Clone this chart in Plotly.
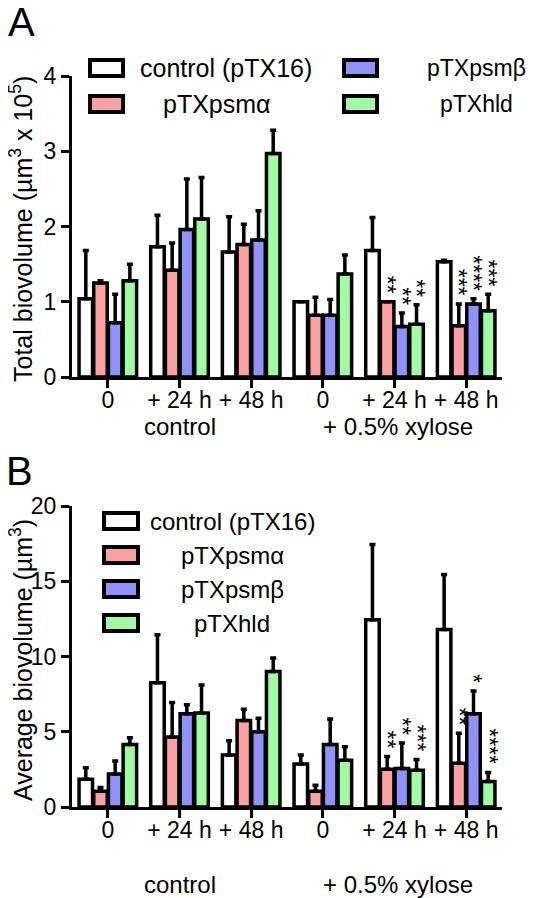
import plotly.graph_objects as go

W, H = 550, 898
OFF = 8  # page body margin of the html page
FONT = "Liberation Sans, Arial, sans-serif"

# ---------------- data ----------------
groups = [0, 1, 2, 3, 4, 5]
tick_labels = ["0", "+ 24 h", "+ 48 h", "0", "+ 24 h", "+ 48 h"]
series_names = ["control (pTX16)", "pTXpsmα", "pTXpsmβ", "pTXhld"]
series_colors = ["#FFFFFF", "#FCA1A1", "#9191FA", "#A2FBA2"]

# Panel A: total biovolume (µm^3 x 10^5), mean and mean+SD
a_control = [1.04, 1.73, 1.66, 1.00, 1.68, 1.53]
a_psma    = [1.25, 1.42, 1.76, 0.82, 1.00, 0.68]
a_psmb    = [0.72, 1.96, 1.82, 0.82, 0.67, 0.97]
a_hld     = [1.28, 2.10, 2.97, 1.37, 0.70, 0.88]
a_control_top = [1.68, 2.15, 2.13, 1.00, 2.12, 1.55]
a_psma_top    = [1.28, 1.78, 2.03, 1.06, 1.00, 0.97]
a_psmb_top    = [1.10, 2.63, 2.21, 1.03, 0.85, 1.04]
a_hld_top     = [1.50, 2.65, 3.28, 1.62, 0.96, 1.10]
a_stars_psma = ["", "", "", "", "**", "***"]
a_stars_psmb = ["", "", "", "", "**", "****"]
a_stars_hld  = ["", "", "", "", "**", "***"]

# Panel B: average biovolume (µm^3)
b_control = [1.85, 8.25, 3.45, 2.85, 12.45, 11.8]
b_psma    = [1.05, 4.65, 5.75, 1.05, 2.50, 2.90]
b_psmb    = [2.20, 6.20, 5.00, 4.15, 2.55, 6.20]
b_hld     = [4.15, 6.25, 9.00, 3.10, 2.45, 1.70]
b_control_top = [2.60, 11.45, 4.40, 3.45, 17.45, 15.45]
b_psma_top    = [1.30, 6.95, 6.50, 1.45, 3.35, 4.90]
b_psmb_top    = [3.05, 6.80, 5.90, 5.85, 4.25, 7.70]
b_hld_top     = [4.60, 8.10, 9.90, 4.00, 3.15, 2.30]
b_stars_psma = ["", "", "", "", "**", "**"]
b_stars_psmb = ["", "", "", "", "**", "*"]
b_stars_hld  = ["", "", "", "", "***", "****"]

BARGAP = 0.18

def px_x(p):
    return (p - OFF) / W

def px_y(p):
    return 1 - (p - OFF) / H

fig = go.Figure()

panels = [
    ("x", "y", [a_control, a_psma, a_psmb, a_hld],
     [a_control_top, a_psma_top, a_psmb_top, a_hld_top],
     [None, a_stars_psma, a_stars_psmb, a_stars_hld]),
    ("x2", "y2", [b_control, b_psma, b_psmb, b_hld],
     [b_control_top, b_psma_top, b_psmb_top, b_hld_top],
     [None, b_stars_psma, b_stars_psmb, b_stars_hld]),
]

annotations = []
for xa, ya, vals, tops, stars in panels:
    for k in range(4):
        fig.add_trace(go.Bar(
            x=groups, y=vals[k], name=series_names[k], xaxis=xa, yaxis=ya,
            marker=dict(color=series_colors[k], line=dict(color="black", width=3.5)),
            error_y=dict(type="data", symmetric=False,
                         array=[t - v for t, v in zip(tops[k], vals[k])],
                         arrayminus=[0] * len(vals[k]),
                         color="black", thickness=3.5, width=3),
            showlegend=False, offsetgroup=str(k),
        ))
        if stars[k] is not None:
            slot = (1 - BARGAP) / 4
            for g, s, t in zip(groups, stars[k], tops[k]):
                if s:
                    # significance stars, stacked vertically (rotated text)
                    annotations.append(dict(
                        x=g + (k - 1.5) * slot, y=t, xref=xa, yref=ya,
                        text=s, textangle=90, showarrow=False,
                        xanchor="center", yanchor="bottom", yshift=6,
                        font=dict(family=FONT, size=23, color="#000000")))

axis_common = dict(showline=True, linecolor="black", linewidth=3, ticks="outside",
                   tickwidth=3, ticklen=8, tickcolor="black", showgrid=False,
                   zeroline=False, automargin=False, tickangle=0,
                   tickfont=dict(family=FONT, size=23, color="black"))

fig.update_layout(
    template="none",
    width=W, height=H, margin=dict(l=0, r=0, t=0, b=0, pad=0, autoexpand=False),
    plot_bgcolor="white", paper_bgcolor="white",
    barmode="group", bargap=BARGAP, bargroupgap=0.08,
    xaxis=dict(domain=[px_x(72), px_x(502)], range=[-0.5, 5.5], anchor="y",
               tickvals=groups, ticktext=tick_labels, ticklabelstandoff=-8, **axis_common),
    yaxis=dict(domain=[px_y(377), px_y(76)], range=[0, 4], anchor="x",
               tickvals=[0, 1, 2, 3, 4], **axis_common),
    xaxis2=dict(domain=[px_x(72), px_x(502)], range=[-0.5, 5.5], anchor="y2",
                tickvals=groups, ticktext=tick_labels, ticklabelstandoff=-8, **axis_common),
    yaxis2=dict(domain=[px_y(807), px_y(506)], range=[0, 20], anchor="x2",
                tickvals=[0, 5, 10, 15, 20], **axis_common),
)

def txt(x, y, s, size=24, xanchor="center", angle=0, xref="paper"):
    return dict(x=x, y=y, xref=xref, yref="paper", text=s, showarrow=False,
                xanchor=xanchor, yanchor="middle", textangle=angle,
                font=dict(family=FONT, size=size, color="black"))

# panel letters
annotations.append(txt(px_x(21), px_y(22), "A", size=40))
annotations.append(txt(px_x(19), px_y(471), "B", size=40))

# y titles
annotations.append(txt(px_x(21), px_y(229), "Total biovolume (µm<sup>3</sup> x 10<sup>5</sup>)",
                       size=25, angle=-90))
annotations.append(txt(px_x(21), px_y(660), "Average biovolume (µm<sup>3</sup>)", size=25, angle=-90))

# group labels
for xr, yy in (("x", 427), ("x2", 884)):
    annotations.append(dict(x=1, y=px_y(yy), xref=xr, yref="paper", text="control", showarrow=False,
                            yanchor="middle", font=dict(family=FONT, size=24, color="black")))
    annotations.append(dict(x=4.05, y=px_y(yy), xref=xr, yref="paper", text="+ 0.5% xylose",
                            showarrow=False, yanchor="middle",
                            font=dict(family=FONT, size=24, color="black")))

# legends (drawn as boxes + labels)
shapes = []
def legend_item(bx0, bx1, cy, tx, color, label, size):
    shapes.append(dict(type="rect", xref="paper", yref="paper",
                       x0=px_x(bx0), x1=px_x(bx1), y0=px_y(cy + 8), y1=px_y(cy - 8),
                       fillcolor=color, line=dict(color="black", width=4)))
    annotations.append(txt(px_x(tx), px_y(cy), label, size=size))

legend_item(90, 123, 68, 226, series_colors[0], series_names[0], 25)
legend_item(90, 123, 104, 217, series_colors[1], series_names[1], 25)
legend_item(344, 377, 68, 476, series_colors[2], series_names[2], 23)
legend_item(344, 377, 104, 476, series_colors[3], series_names[3], 23)

legend_item(104, 138, 521, 232, series_colors[0], series_names[0], 24)
legend_item(104, 138, 555, 232, series_colors[1], series_names[1], 24)
legend_item(104, 138, 589, 232, series_colors[2], series_names[2], 24)
legend_item(104, 138, 623, 232, series_colors[3], series_names[3], 24)

fig.update_layout(annotations=annotations, shapes=shapes)
fig.write_html("out.html")
